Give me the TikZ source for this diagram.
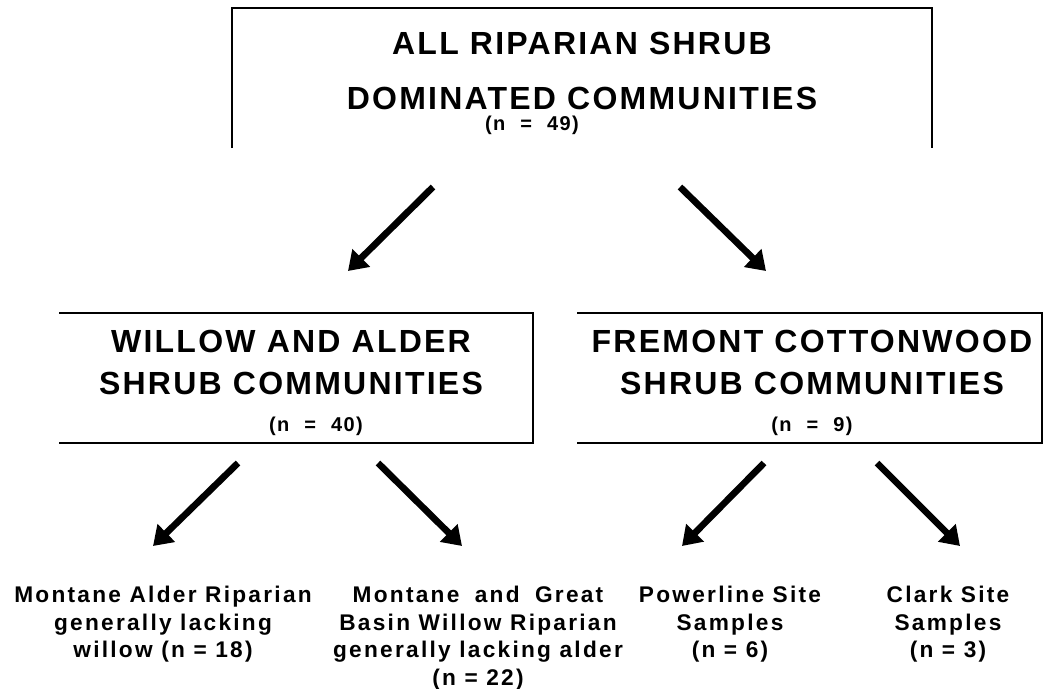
\documentclass[tikz,border=0pt]{standalone}
\usepackage{fontspec}
\setmainfont{Liberation Sans}
\newfontfamily\bigfont{Liberation Sans}[LetterSpace=7]
\newfontfamily\botfont{Liberation Sans}[LetterSpace=10]
\newcommand\wideeq{\hspace{0.75em}=\hspace{0.75em}}
\usetikzlibrary{arrows.meta}
\begin{document}
\begin{tikzpicture}[x=0.75pt,y=-0.75pt,
  boxline/.style={line width=1.6pt},
  arr/.style={line width=5pt,-{Triangle[length=14pt,width=18pt]}},
  head/.style={font=\bigfont\bfseries\fontsize{24}{41}\selectfont, align=center, inner sep=0pt, anchor=north},
  midhead/.style={font=\bigfont\bfseries\fontsize{24}{31.5}\selectfont, align=center, inner sep=0pt, anchor=north},
  count/.style={font=\bigfont\bfseries\fontsize{15}{16}\selectfont, inner sep=0pt},
  leaf/.style={font=\botfont\bfseries\fontsize{17}{20.6}\selectfont, align=center, inner sep=0pt, anchor=north}
]
\useasboundingbox (0,0) rectangle (1054,689);
\fill[white] (0,0) rectangle (1054,689);

% top box (open at bottom)
\draw[boxline] (232,148) -- (232,8) -- (932,8) -- (932,148);
\node[head] (top) at (582,32) {ALL RIPARIAN SHRUB\\DOMINATED COMMUNITIES};
\node[count] (topn) at (532,125) {(n\wideeq 49)};

% middle boxes
\draw[boxline] (59,313) -- (533,313) -- (533,443) -- (59,443);
\node[midhead] (wa) at (291,330) {WILLOW AND ALDER\\SHRUB COMMUNITIES};
\node[count] (wan) at (316,426) {(n\wideeq 40)};

\draw[boxline] (577,313) -- (1042,313) -- (1042,443) -- (577,443);
\node[midhead] (fc) at (812,330) {FREMONT COTTONWOOD\\SHRUB COMMUNITIES};
\node[count] (fcn) at (812,426) {(n\wideeq 9)};

% arrows from top
\coordinate (t1s) at (433,187); \coordinate (t1e) at (348,271);
\coordinate (t2s) at (680,187); \coordinate (t2e) at (766,271);
\draw[arr] (t1s) -- (t1e);
\draw[arr] (t2s) -- (t2e);

% arrows from middle
\coordinate (l1s) at (238,463); \coordinate (l1e) at (153,546);
\coordinate (l2s) at (378,463); \coordinate (l2e) at (462,546);
\coordinate (r1s) at (764,463); \coordinate (r1e) at (682,546);
\coordinate (r2s) at (877,463); \coordinate (r2e) at (960,546);
\draw[arr] (l1s) -- (l1e);
\draw[arr] (l2s) -- (l2e);
\draw[arr] (r1s) -- (r1e);
\draw[arr] (r2s) -- (r2e);

% leaves
\node[leaf] (ma) at (163,586) {Montane Alder Riparian\\generally lacking\\willow (n = 18)};
\node[leaf] (mw) at (478,586) {Montane\hspace{0.3em} and\hspace{0.3em} Great\\Basin Willow Riparian\\generally lacking alder\\(n = 22)};
\node[leaf] (ps) at (730,586) {Powerline Site\\Samples\\(n = 6)};
\node[leaf] (cs) at (948,586) {Clark Site\\Samples\\(n = 3)};
\end{tikzpicture}
\end{document}
